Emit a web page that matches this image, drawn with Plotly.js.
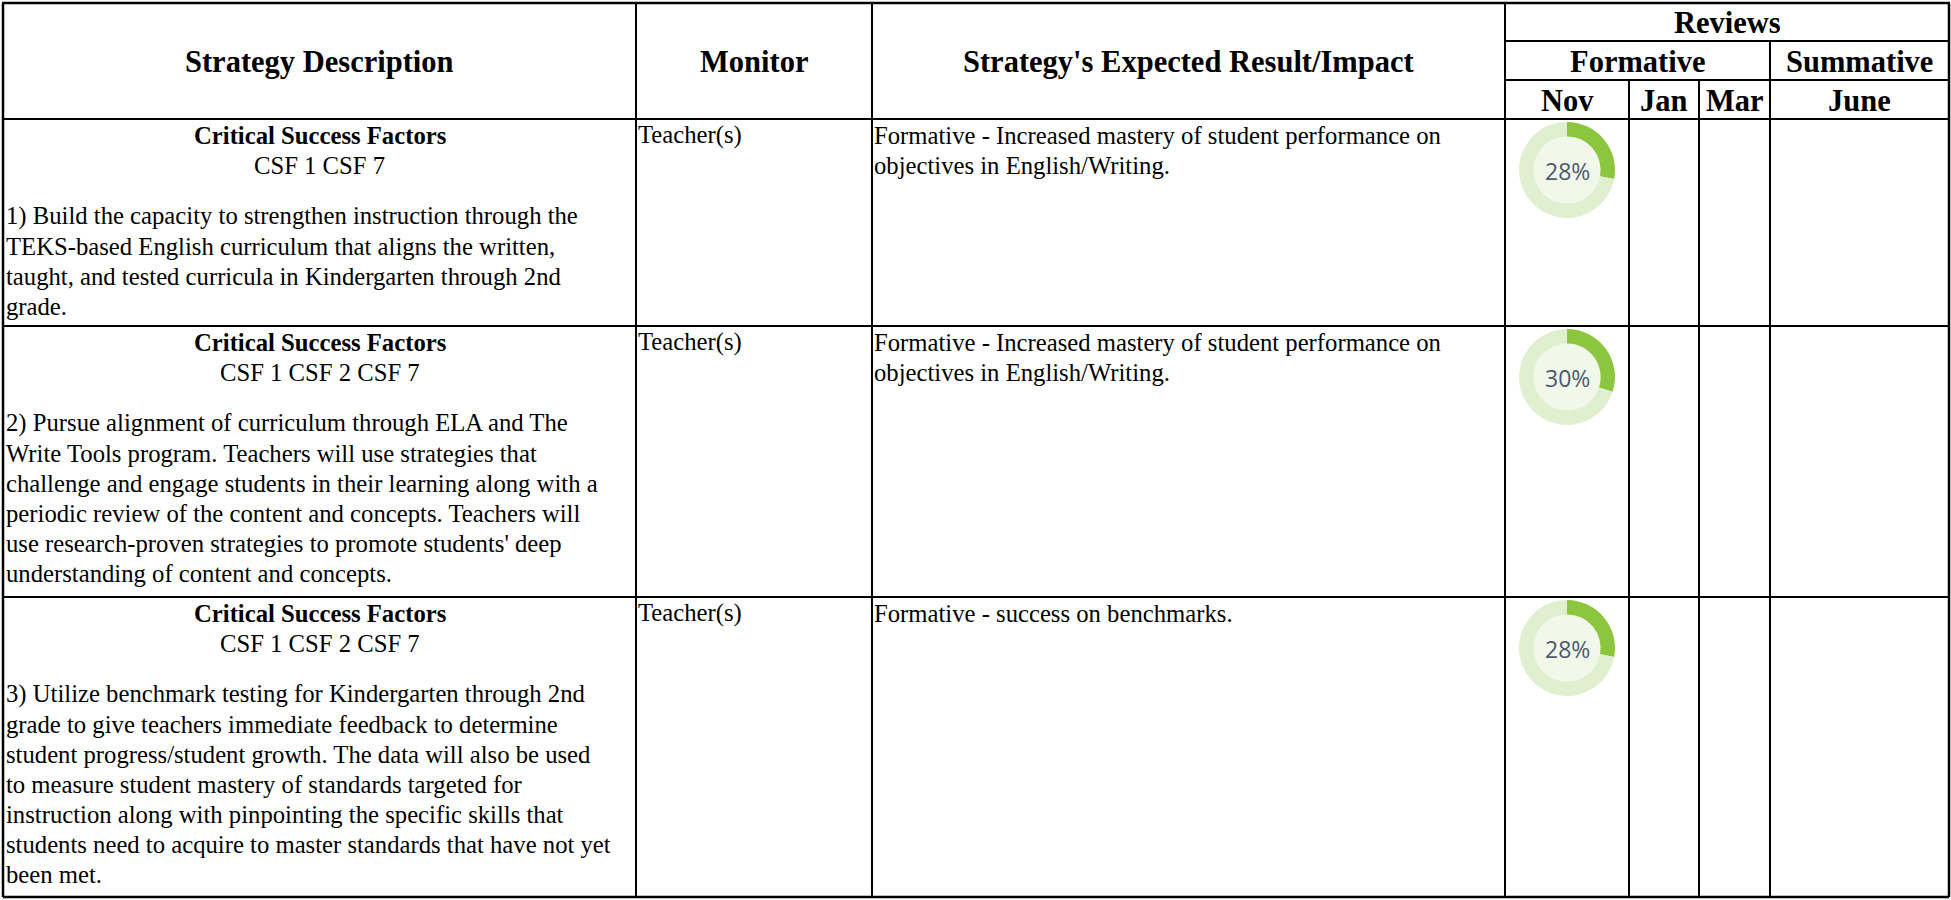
<!DOCTYPE html>
<html>
<head>
<meta charset="utf-8">
<script src="https://cdn.plot.ly/plotly-3.0.1.min.js"></script>
<style>
  html, body { margin: 0; padding: 0; background: #ffffff; }
  #chart { width: 1951px; height: 900px; }
</style>
</head>
<body>
<div id="chart"></div>
<script>
// ---------------- DATA ----------------
const headerTitles = ["Strategy Description", "Monitor", "Strategy's Expected Result/Impact"];
const reviewsTitle = "Reviews";
const reviewGroups = ["Formative", "Summative"];
const reviewMonths = ["Nov", "Jan", "Mar", "June"];

const csfHeading = "Critical Success Factors";
const csfLines = ["CSF 1 CSF 7", "CSF 1 CSF 2 CSF 7", "CSF 1 CSF 2 CSF 7"];

const descRow1 = [
  "1) Build the capacity to strengthen instruction through the",
  "TEKS-based English curriculum that aligns the written,",
  "taught, and tested curricula in Kindergarten through 2nd",
  "grade."
];
const descRow2 = [
  "2) Pursue alignment of curriculum through ELA and The",
  "Write Tools program. Teachers will use strategies that",
  "challenge and engage students in their learning along with a",
  "periodic review of the content and concepts. Teachers will",
  "use research-proven strategies to promote students' deep",
  "understanding of content and concepts."
];
const descRow3 = [
  "3) Utilize benchmark testing for Kindergarten through 2nd",
  "grade to give teachers immediate feedback to determine",
  "student progress/student growth. The data will also be used",
  "to measure student mastery of standards targeted for",
  "instruction along with pinpointing the specific skills that",
  "students need to acquire to master standards that have not yet",
  "been met."
];
const descriptions = [descRow1, descRow2, descRow3];

const monitors = ["Teacher(s)", "Teacher(s)", "Teacher(s)"];

const impactRow1 = ["Formative - Increased mastery of student performance on", "objectives in English/Writing."];
const impactRow2 = ["Formative - Increased mastery of student performance on", "objectives in English/Writing."];
const impactRow3 = ["Formative - success on benchmarks."];
const impacts = [impactRow1, impactRow2, impactRow3];

const novPercent = [28, 30, 28];

// ---------------- LAYOUT CONSTANTS ----------------
const W = 1951, H = 900;
const X = { left: 3, c1: 636, c2: 872, c3: 1505, nov: 1629, jan: 1699, form: 1770, right: 1949 };
const Y = { top: 3, reviews: 41, formative: 80, head: 119 };
const rowBottoms = [326, 597, 897];
const rowTops = [Y.head, rowBottoms[0], rowBottoms[1]];

const serif = "Liberation Serif, Times New Roman, serif";
const bodySize = 24.7;
const headSize = 30.5;
const LINE = 30;

const shapes = [];
const annotations = [];
const lineStyle = { color: "#000000", width: 2 };

function hline(y, x0, x1, w) {
  shapes.push({ type: "line", xref: "x", yref: "y", x0: x0, x1: x1, y0: y, y1: y,
    line: { color: "#000", width: w || 2 } });
}
function vline(x, y0, y1, w) {
  shapes.push({ type: "line", xref: "x", yref: "y", x0: x, x1: x, y0: y0, y1: y1,
    line: { color: "#000", width: w || 2 } });
}
function text(t, x, y, opts) {
  opts = opts || {};
  annotations.push(Object.assign({
    xref: "x", yref: "y", x: x, y: y, text: t, showarrow: false,
    xanchor: "center", yanchor: "middle", borderpad: 0,
    font: { family: serif, size: bodySize, color: "#000" }
  }, opts));
}

// grid
const bottom = rowBottoms[rowBottoms.length - 1];
hline(Y.top, X.left - 1, X.right + 1, 2.5);
hline(Y.reviews, X.c3, X.right);
hline(Y.formative, X.c3, X.right);
hline(Y.head, X.left, X.right);
rowBottoms.forEach(function (b, i) { hline(b, X.left, X.right, i === rowBottoms.length - 1 ? 2.5 : 2); });
vline(X.left, Y.top, bottom, 2.5);
vline(X.right, Y.top, bottom, 2.5);
vline(X.c1, Y.top, bottom);
vline(X.c2, Y.top, bottom);
vline(X.c3, Y.top, bottom);
vline(X.form, Y.reviews, bottom);
vline(X.nov, Y.formative, bottom);
vline(X.jan, Y.formative, bottom);

// header texts
const hfont = { family: serif, size: headSize, color: "#000", weight: "bold" };
const headMid = (Y.top + Y.head) / 2 + 1;
text("<b>" + headerTitles[0] + "</b>", (X.left + X.c1) / 2, headMid, { font: hfont });
text("<b>" + headerTitles[1] + "</b>", (X.c1 + X.c2) / 2, headMid, { font: hfont });
text("<b>" + headerTitles[2] + "</b>", (X.c2 + X.c3) / 2, headMid, { font: hfont });
text("<b>" + reviewsTitle + "</b>", (X.c3 + X.right) / 2, (Y.top + Y.reviews) / 2 + 1, { font: hfont });
text("<b>" + reviewGroups[0] + "</b>", (X.c3 + X.form) / 2, (Y.reviews + Y.formative) / 2 + 1, { font: hfont });
text("<b>" + reviewGroups[1] + "</b>", (X.form + X.right) / 2, (Y.reviews + Y.formative) / 2 + 1, { font: hfont });
const monthCenters = [(X.c3 + X.nov) / 2, (X.nov + X.jan) / 2, (X.jan + X.form) / 2, (X.form + X.right) / 2];
reviewMonths.forEach(function (m, i) {
  text("<b>" + m + "</b>", monthCenters[i], (Y.formative + Y.head) / 2 + 1, { font: hfont });
});

// body rows
const traces = [];
const donutR = 48;
const donutCx = 1567;
descriptions.forEach(function (lines, r) {
  const top = rowTops[r];
  text("<b>" + csfHeading + "</b>", (X.left + X.c1) / 2, top + 16);
  text(csfLines[r], (X.left + X.c1) / 2, top + 46);
  lines.forEach(function (ln, i) {
    text(ln, X.left + 2, top + 97 + LINE * i, { xanchor: "left" });
  });
  text(monitors[r], X.c1 + 1, top + 16, { xanchor: "left" });
  impacts[r].forEach(function (ln, i) {
    text(ln, X.c2 + 1, top + 16 + LINE * i, { xanchor: "left" });
  });

  // donut
  const cy = top + 51;
  shapes.push({ type: "circle", xref: "x", yref: "y", layer: "below",
    x0: donutCx - 34, x1: donutCx + 34, y0: cy - 34, y1: cy + 34,
    fillcolor: "#f1f8ea", line: { width: 0 } });
  traces.push({
    type: "pie",
    values: [novPercent[r], 100 - novPercent[r]],
    marker: { colors: ["#8cc63f", "#dfefd0"], line: { width: 0 } },
    hole: 0.7,
    sort: false,
    direction: "clockwise",
    rotation: 0,
    textinfo: "none",
    hoverinfo: "skip",
    showlegend: false,
    domain: {
      x: [(donutCx - donutR) / W, (donutCx + donutR) / W],
      y: [1 - (cy + donutR) / H, 1 - (cy - donutR) / H]
    }
  });
  text(novPercent[r] + "%", donutCx, cy + 1, {
    font: { family: "Open Sans, sans-serif", size: 23, color: "#4e5870" }
  });
});

// invisible scatter to establish axes
traces.unshift({ type: "scatter", x: [0, W], y: [0, H], mode: "markers",
  marker: { opacity: 0 }, hoverinfo: "skip", showlegend: false });

const layout = {
  width: W, height: H,
  margin: { l: 0, r: 0, t: 0, b: 0 },
  paper_bgcolor: "#ffffff", plot_bgcolor: "#ffffff",
  xaxis: { range: [0, W], visible: false, fixedrange: true },
  yaxis: { range: [H, 0], visible: false, fixedrange: true },
  shapes: shapes,
  annotations: annotations,
  showlegend: false
};

Plotly.newPlot("chart", traces, layout, { staticPlot: true, displayModeBar: false });
</script>
</body>
</html>
